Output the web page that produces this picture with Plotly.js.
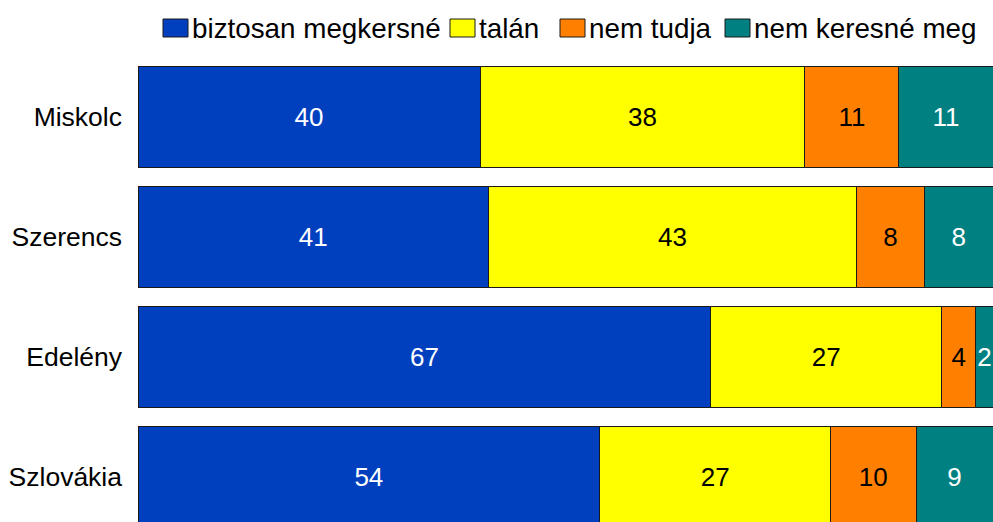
<!DOCTYPE html>
<html>
<head>
<meta charset="utf-8">
<script src="https://cdn.plot.ly/plotly-3.0.1.min.js"></script>
<style>html,body{margin:0;padding:0;background:#fff;}#chart{width:993px;height:522px;}</style>
</head>
<body>
<div id="chart"></div>
<script>
var categories = ["Miskolc", "Szerencs", "Edelény", "Szlovákia"];
var seriesNames = ["biztosan megkersné", "talán", "nem tudja", "nem keresné meg"];
var biztosan = [40, 41, 67, 54];
var talan = [38, 43, 27, 27];
var nemTudja = [11, 8, 4, 10];
var nemKeresne = [11, 8, 2, 9];
var seriesValues = [biztosan, talan, nemTudja, nemKeresne];
var colors = ["#0040BF", "#FFFF00", "#FF8000", "#008080"];
var textColors = ["#FFFFFF", "#000000", "#000000", "#FFFFFF"];

var FONT = "Liberation Sans, Arial, sans-serif";
var W = 993, H = 522;
var M = {l: 138, r: 0, t: 57, b: 0};
var plotW = W - M.l - M.r, plotH = H - M.t - M.b;
function px2x(p) { return (p - M.l) / plotW; }
function px2y(p) { return (H - M.b - p) / plotH; }

var traces = seriesNames.map(function (name, i) {
  return {
    type: "bar",
    orientation: "h",
    name: name,
    y: categories,
    x: seriesValues[i],
    marker: {color: colors[i], line: {color: "#1a1a1a", width: 1}},
    texttemplate: "%{x}",
    textposition: "inside",
    insidetextanchor: "middle",
    constraintext: "none",
    textangle: 0,
    textfont: {family: FONT, size: 26, color: textColors[i]},
    hoverinfo: "none",
    showlegend: false
  };
});

// custom legend (boxes + labels) placed above the plot area
var legBoxX = [163, 450, 560, 725];
var shapes = [], annotations = [];
seriesNames.forEach(function (name, i) {
  shapes.push({
    type: "rect", xref: "paper", yref: "paper",
    x0: px2x(legBoxX[i]), x1: px2x(legBoxX[i] + 25),
    y0: px2y(37), y1: px2y(19),
    fillcolor: colors[i], line: {color: "#1a1a1a", width: 1}
  });
  annotations.push({
    xref: "paper", yref: "paper",
    x: px2x(legBoxX[i] + 27), y: px2y(28),
    xanchor: "left", yanchor: "middle",
    text: name, showarrow: false,
    font: {family: FONT, size: 27.8, color: "#000"}
  });
});

var layout = {
  width: W, height: H,
  margin: M,
  paper_bgcolor: "#fff", plot_bgcolor: "#fff",
  barmode: "stack",
  bargap: 0.16,
  showlegend: false,
  xaxis: {range: [0, 100], visible: false, fixedrange: true},
  yaxis: {
    type: "category",
    categoryorder: "array", categoryarray: categories,
    range: [3.375, -0.5],
    showgrid: false, zeroline: false, showline: false,
    ticks: "", ticklabelstandoff: 15,
    tickfont: {family: FONT, size: 26.5, color: "#000"}
  },
  shapes: shapes,
  annotations: annotations
};

Plotly.newPlot("chart", traces, layout, {staticPlot: true, displayModeBar: false});
</script>
</body>
</html>
